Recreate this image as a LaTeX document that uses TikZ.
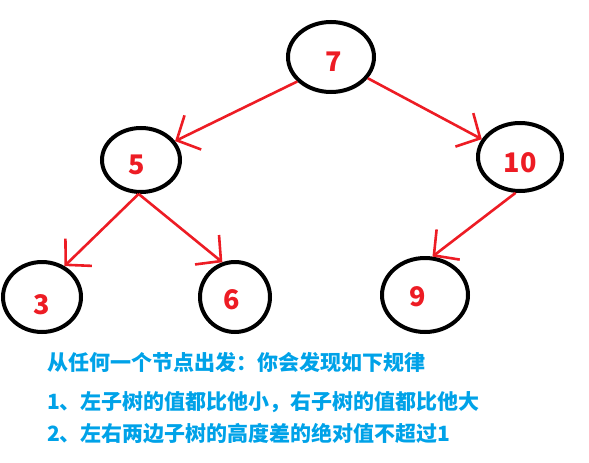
\documentclass[tikz,border=0pt]{standalone}
\usepackage{fontspec}
\newfontfamily\cjk{Noto Sans CJK SC}
\usetikzlibrary{shapes.geometric,arrows.meta}
\definecolor{pred}{HTML}{ED1C24}
\definecolor{pblue}{HTML}{00A2E8}
\tikzset{
  tnode/.style={ellipse,draw=black,line width=4pt,inner sep=0pt},
  numlabel/.style={text=pred,font=\cjk\bfseries\fontsize{27}{30}\selectfont},
  edge/.style={draw=pred,line width=2.6pt,-{Straight Barb[length=18pt,width=38pt,line width=2.6pt]}},
  note/.style={anchor=west,text=pblue,inner sep=0pt,font=\cjk\bfseries\fontsize{21}{24}\selectfont}
}
\begin{document}
\begin{tikzpicture}[x=1pt,y=-1pt]
\useasboundingbox (0,0) rectangle (589,463);
\node[tnode,minimum width=86pt,minimum height=70pt] (n7) at (331,57) {};
\node[tnode,minimum width=78pt,minimum height=64pt] (n5) at (141,160) {};
\node[tnode,minimum width=84pt,minimum height=68pt] (n10) at (520,157) {};
\node[tnode,minimum width=78pt,minimum height=70pt] (n3) at (42,297) {};
\node[tnode,minimum width=70pt,minimum height=70pt] (n6) at (235,297) {};
\node[tnode,minimum width=86pt,minimum height=74pt] (n9) at (425,295) {};
\node[numlabel] (l7) at (334,62) {7};
\node[numlabel] (l5) at (137,165) {5};
\node[numlabel] (l10) at (520,163) {10};
\node[numlabel] (l3) at (42,305) {3};
\node[numlabel] (l6) at (232,300) {6};
\node[numlabel] (l9) at (418,297) {9};
\draw[edge] (n7.216) -- (n5.29);
\draw[edge] (n7.330) -- (n10.155);
\draw[edge] (n5.266) -- (n3.54);
\draw[edge] (n5.266) -- (n6.110);
\draw[edge] (n10.263) -- (n9.79);
\node[note] (t1) at (47,362) {从任何一个节点出发：你会发现如下规律};
\node[note] (t2) at (47,402) {1、左子树的值都比他小，右子树的值都比他大};
\node[note] (t3) at (47,434) {2、左右两边子树的高度差的绝对值不超过1};
\end{tikzpicture}
\end{document}
